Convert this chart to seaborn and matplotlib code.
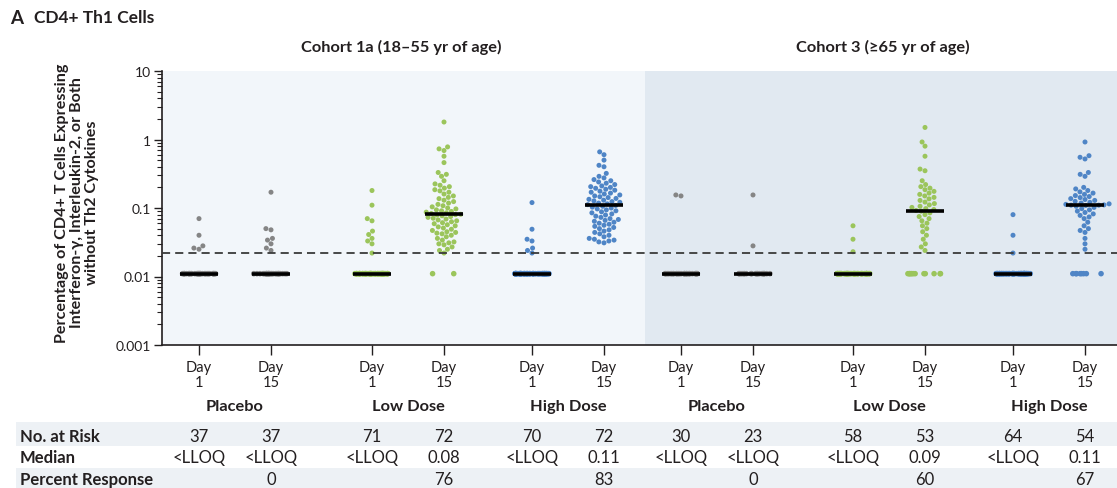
import numpy as np
import pandas as pd
import matplotlib
matplotlib.use("Agg")
import matplotlib.pyplot as plt
import matplotlib.transforms as mtransforms
from matplotlib.patches import Rectangle
from matplotlib.ticker import FixedLocator, FixedFormatter, NullFormatter
import seaborn as sns

# ---------------- data ----------------
panel_title = "CD4+ Th1 Cells"
cohorts = ["Cohort 1a (18\u201355 yr of age)", "Cohort 3 (\u226565 yr of age)"]
arms = ["Placebo", "Low Dose", "High Dose"]
day_labels = ["Day\n1", "Day\n15"]
y_label = ("Percentage of CD4+ T Cells Expressing\n"
           "Interferon-\u03b3, Interleukin-2, or Both\n"
           "without Th2 Cytokines")
y_ticks = [0.001, 0.01, 0.1, 1, 10]
y_tick_labels = ["0.001", "0.01", "0.1", "1", "10"]
lloq_plot_value = 0.011
response_threshold = 0.022

n_at_risk = [37, 37, 71, 72, 70, 72, 30, 23, 58, 53, 64, 54]
median_text = ["<LLOQ", "<LLOQ", "<LLOQ", "0.08", "<LLOQ", "0.11",
               "<LLOQ", "<LLOQ", "<LLOQ", "0.09", "<LLOQ", "0.11"]
percent_response = ["", "0", "", "76", "", "83", "", "0", "", "60", "", "67"]
table_rows = ["No. at Risk", "Median", "Percent Response"]

# values above the LLOQ (rest of each group is <LLOQ)
c1_placebo_d1 = [0.07, 0.04, 0.028, 0.026, 0.025]
c1_placebo_d15 = [0.17, 0.05, 0.048, 0.036, 0.034, 0.03, 0.026, 0.024]
c1_low_d1 = [0.18, 0.11, 0.07, 0.065, 0.046, 0.041, 0.036, 0.033, 0.03, 0.022]
c1_low_d15 = [1.8, 0.78, 0.73, 0.69, 0.57, 0.46, 0.33, 0.31, 0.29,
              0.25, 0.225, 0.215, 0.205, 0.195, 0.185, 0.178, 0.17, 0.16, 0.15,
              0.143, 0.137, 0.13, 0.124, 0.118, 0.113, 0.108, 0.104, 0.1, 0.097,
              0.094, 0.091, 0.089, 0.087, 0.085, 0.083, 0.081, 0.08,
              0.079, 0.077, 0.075, 0.073, 0.071, 0.069, 0.067, 0.065, 0.063,
              0.061, 0.059, 0.057, 0.055, 0.053, 0.051, 0.049, 0.047, 0.045,
              0.044, 0.043, 0.042, 0.04, 0.038, 0.036, 0.034, 0.032, 0.031,
              0.03, 0.029, 0.027, 0.025, 0.024, 0.022]
c1_high_d1 = [0.12, 0.049, 0.035, 0.033, 0.026, 0.024, 0.022]
c1_high_d15 = [0.66, 0.6, 0.5, 0.42, 0.4, 0.32,
               0.29, 0.275, 0.26, 0.25, 0.24, 0.23, 0.22, 0.21, 0.205, 0.2,
               0.194, 0.188, 0.182, 0.176, 0.17, 0.165, 0.16, 0.155, 0.15,
               0.146, 0.142, 0.138, 0.134, 0.13, 0.127, 0.124, 0.121, 0.118,
               0.115, 0.112,
               0.109, 0.106, 0.103, 0.1, 0.097, 0.094, 0.091, 0.088, 0.085,
               0.082, 0.079, 0.076, 0.073, 0.07, 0.068, 0.066, 0.064, 0.062,
               0.06, 0.058, 0.056, 0.054, 0.052, 0.05, 0.048, 0.046, 0.044,
               0.042, 0.04, 0.038, 0.036, 0.035, 0.034, 0.033, 0.032, 0.031]
c3_placebo_d1 = [0.155, 0.15]
c3_placebo_d15 = [0.155, 0.028]
c3_low_d1 = [0.055, 0.035, 0.023]
c3_low_d15 = [1.5, 0.92, 0.8, 0.57, 0.37, 0.35, 0.25, 0.22, 0.205, 0.195,
              0.185, 0.175, 0.165, 0.158, 0.15, 0.143, 0.136, 0.129, 0.122,
              0.116, 0.111, 0.106, 0.102, 0.098, 0.095, 0.092, 0.09,
              0.085, 0.08, 0.075, 0.07, 0.065, 0.06, 0.055, 0.05, 0.045,
              0.04, 0.035, 0.03, 0.027, 0.024]
c3_high_d1 = [0.08, 0.04, 0.022]
c3_high_d15 = [0.92, 0.58, 0.55, 0.52, 0.33, 0.31, 0.29, 0.2, 0.19, 0.18,
               0.172, 0.165, 0.158, 0.152, 0.147, 0.142, 0.137, 0.133, 0.129,
               0.125, 0.121, 0.118, 0.115, 0.113, 0.111, 0.11, 0.11, 0.109,
               0.106, 0.102, 0.098, 0.094, 0.09, 0.086, 0.082, 0.078, 0.074,
               0.07, 0.062, 0.055, 0.05, 0.047, 0.044, 0.036, 0.03, 0.025]

detectable = [c1_placebo_d1, c1_placebo_d15, c1_low_d1, c1_low_d15,
              c1_high_d1, c1_high_d15, c3_placebo_d1, c3_placebo_d15,
              c3_low_d1, c3_low_d15, c3_high_d1, c3_high_d15]

# ---------------- layout / style ----------------
W, H = 1117, 489
AX_L, AX_T, AX_B = 162, 72, 346
TICK_X = [199, 271, 372, 444, 532, 604, 681, 753, 853, 925, 1013, 1085]
COHORT_SPLIT = 645
colors = {"Placebo": "#858585", "Low Dose": "#9bc55b", "High Dose": "#4f85c6"}
DARK = "#231f20"

rows = []
for i, vals in enumerate(detectable):
    arm = arms[(i // 2) % 3]
    n_lloq = n_at_risk[i] - len(vals)
    for v in vals:
        rows.append((TICK_X[i], v, arm, "det", i))
    for _ in range(n_lloq):
        rows.append((TICK_X[i], lloq_plot_value, arm, "lloq", i))
df = pd.DataFrame(rows, columns=["x", "value", "arm", "kind", "grp"])

sns.set_theme(style="white")
plt.rcParams["font.family"] = ["Lato", "DejaVu Sans"]
plt.rcParams["text.color"] = DARK

fig = plt.figure(figsize=(W / 100, H / 100), dpi=100)
ax = fig.add_axes([AX_L / W, (H - AX_B) / H, (W - AX_L) / W, (AX_B - AX_T) / H])
ax.set_yscale("log")
ax.set_facecolor("none")

ax.axvspan(AX_L, COHORT_SPLIT, color="#f2f6fa", zorder=0, lw=0)
ax.axvspan(COHORT_SPLIT, W, color="#e1e9f1", zorder=0, lw=0)

np.random.seed(7)
sns.stripplot(data=df[df.kind == "lloq"], x="x", y="value", hue="arm",
              palette=colors, native_scale=True, jitter=0.24, size=4.0,
              linewidth=0, legend=False, ax=ax, zorder=2)
sns.swarmplot(data=df[df.kind == "det"], x="x", y="value", hue="arm",
              palette=colors, native_scale=True, size=3.6,
              linewidth=0, legend=False, ax=ax, zorder=3, warn_thresh=1.0)

ax.axhline(response_threshold, color="#3a3a3a", lw=1.3, ls=(0, (4.5, 2.8)), zorder=4)

for i in range(len(detectable)):
    g = df[df.grp == i]["value"]
    med = np.median(g)
    ax.hlines(med, TICK_X[i] - 19, TICK_X[i] + 19, color="black", lw=2.6, zorder=5)

ax.set_xlim(AX_L, W)
ax.set_ylim(0.001, 10)
ax.set_xlabel("")
ax.set_ylabel("")

ax.yaxis.set_major_locator(FixedLocator(y_ticks))
ax.yaxis.set_major_formatter(FixedFormatter(y_tick_labels))
minor = [m * 10.0 ** e for e in range(-3, 1) for m in range(2, 10)]
ax.yaxis.set_minor_locator(FixedLocator(minor))
ax.yaxis.set_minor_formatter(NullFormatter())
ax.set_xticks(TICK_X)
ax.set_xticklabels(day_labels * 6, fontsize=10.5, linespacing=1.1)

ax.tick_params(axis="y", which="major", length=6, width=1, color=DARK,
               labelsize=10, pad=2, left=True, labelcolor=DARK)
ax.tick_params(axis="y", which="minor", length=3.5, width=0.8, color=DARK, left=True)
ax.tick_params(axis="x", which="major", length=7, width=1, color=DARK,
               pad=4, bottom=True, labelcolor=DARK)

for s in ["top", "right"]:
    ax.spines[s].set_visible(False)
for s in ["left", "bottom"]:
    ax.spines[s].set_color(DARK)
    ax.spines[s].set_linewidth(1.2)


def fy(py):
    return 1 - py / H


blend = mtransforms.blended_transform_factory(ax.transData, fig.transFigure)

for k in range(6):
    xc = (TICK_X[2 * k] + TICK_X[2 * k + 1]) / 2
    fig.text(xc, fy(407), arms[k % 3], transform=blend, ha="center", va="center",
             fontsize=11.8, fontweight="bold")

for c in range(2):
    xc = (TICK_X[6 * c] + TICK_X[6 * c + 5]) / 2
    fig.text(xc, fy(47), cohorts[c], transform=blend, ha="center", va="center",
             fontsize=11.8, fontweight="bold")

fig.text(10 / W, fy(18), "A", ha="left", va="center", fontsize=13.5, fontweight="bold")
fig.text(34 / W, fy(18), panel_title, ha="left", va="center", fontsize=12.5,
         fontweight="bold")

fig.text(77 / W, fy(203), y_label, rotation=90, ha="center", va="center",
         fontsize=11.6, fontweight="bold", multialignment="center", linespacing=1.1)

fig.patches.append(Rectangle((16 / W, fy(447)), 1 - 16 / W, 24 / H,
                             transform=fig.transFigure, color="#edf1f5", lw=0, zorder=-5))
fig.patches.append(Rectangle((16 / W, 0), 1 - 16 / W, 20 / H,
                             transform=fig.transFigure, color="#edf1f5", lw=0, zorder=-5))
row_y = [437, 458, 480]
row_vals = [[str(v) for v in n_at_risk], median_text, percent_response]
for r in range(3):
    fig.text(20 / W, fy(row_y[r]), table_rows[r], ha="left", va="center",
             fontsize=12, fontweight="bold", zorder=5)
    for i, t in enumerate(row_vals[r]):
        fig.text(TICK_X[i], fy(row_y[r]), t, transform=blend, ha="center",
                 va="center", fontsize=12, zorder=5)

fig.savefig("out.png", dpi=100)
